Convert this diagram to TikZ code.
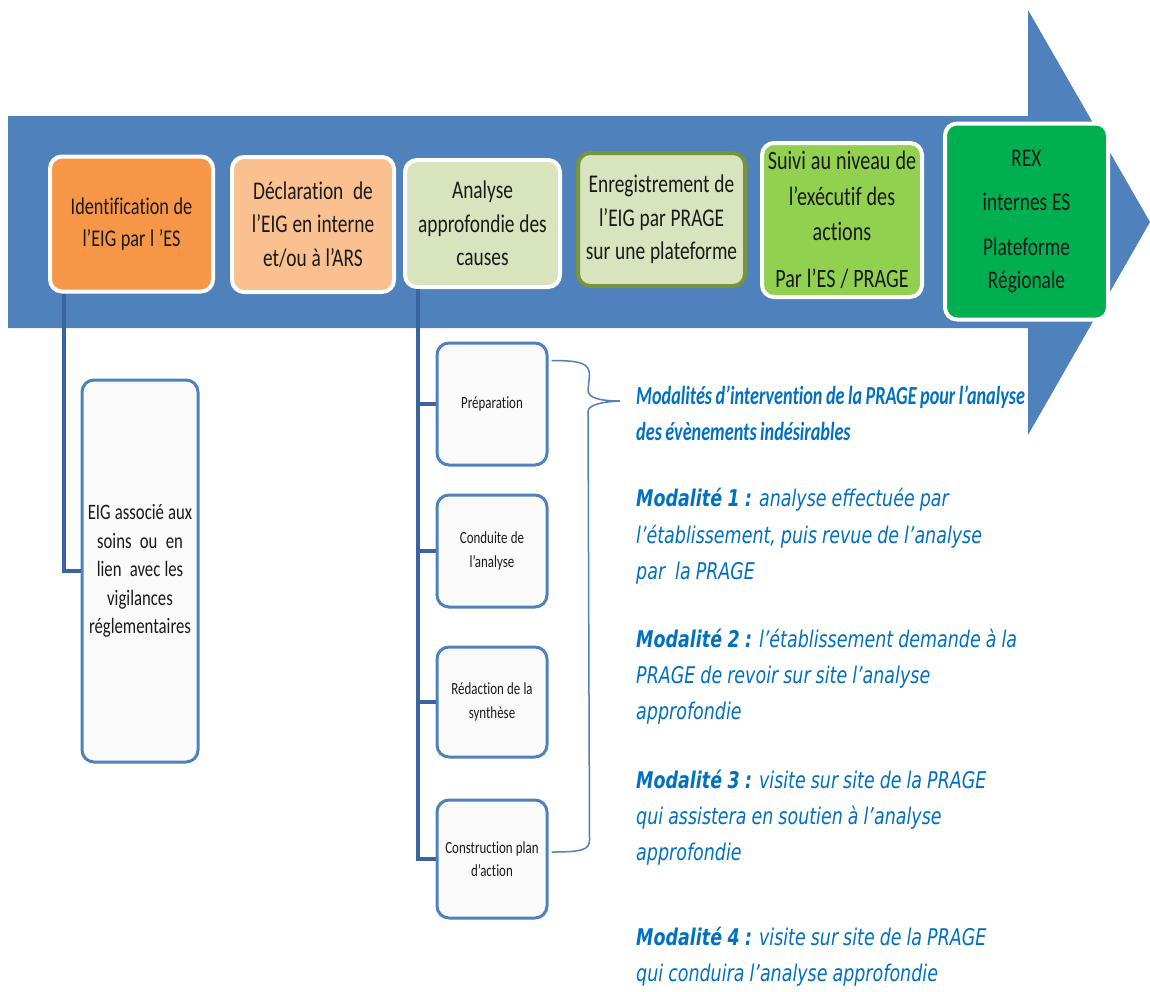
\documentclass[tikz,border=0pt]{standalone}
\usepackage{fontspec}
\setmainfont{Carlito}
\newfontfamily\boxfont[FakeStretch=0.76,WordSpace=1.1,Ligatures=NoCommon]{Carlito}
\newfontfamily\headfont[FakeStretch=0.7,WordSpace=0.85,Ligatures=NoCommon]{Carlito}
\newfontfamily\modfont[FakeStretch=0.76,WordSpace=0.9]{DejaVu Sans}
\usetikzlibrary{calc}
\definecolor{arrowblue}{HTML}{4F81BD}
\definecolor{linkblue}{HTML}{3A64A0}
\definecolor{orangeA}{HTML}{F79646}
\definecolor{orangeB}{HTML}{FAC090}
\definecolor{greenA}{HTML}{D7E4BD}
\definecolor{greenB}{HTML}{92D050}
\definecolor{greenC}{HTML}{00B050}
\definecolor{olive}{HTML}{77933C}
\definecolor{textblue}{HTML}{0070C0}
\definecolor{ink}{HTML}{1A1A1A}
\tikzset{
  mainbox/.style={draw=white, line width=4pt, rounded corners=12pt, align=flush center,
    text=ink, inner sep=2pt, font=\boxfont\fontsize{25.5}{33.5}\selectfont},
  subbox/.style={draw=arrowblue, line width=3pt, fill=white!98!black, rounded corners=12pt,
    align=flush center, text=ink, inner sep=2pt, minimum width=110pt},
  subtext/.style={font=\boxfont\fontsize{17}{23.5}\selectfont},
  link/.style={draw=linkblue, line width=3.5pt},
  bracestyle/.style={draw=arrowblue, line width=1.5pt},
  headtext/.style={anchor=base west, inner sep=0pt, text=textblue,
    font=\headfont\bfseries\itshape\fontsize{26}{36}\selectfont},
  modtext/.style={anchor=base west, inner sep=0pt, text=textblue,
    font=\modfont\itshape\fontsize{23}{36}\selectfont},
}
\begin{document}
\begin{tikzpicture}[x=1pt,y=-1pt]
\useasboundingbox (0,0) rectangle (1150,991);
\fill[white] (0,0) rectangle (1150,991);
% big arrow
\fill[arrowblue] (8,116) -- (1028,116) -- (1028,10) -- (1150,222) -- (1028,435) -- (1028,328) -- (8,328) -- cycle;

% main boxes
\node[mainbox, fill=orangeA, minimum width=163pt, minimum height=135pt, text width=150pt,
  font=\boxfont\fontsize{24}{32.5}\selectfont] (b1) at (131.5,224) {Identification de\\l’EIG par l ’ES};
\node[mainbox, fill=orangeB, minimum width=162pt, minimum height=135pt, text width=150pt] (b2) at (313,224.5) {Déclaration~ de\\l’EIG en interne\\et/ou à l’ARS};
\node[mainbox, fill=greenA, minimum width=155pt, minimum height=127pt, text width=148pt] (b3) at (482.5,223.5) {Analyse\\approfondie des\\causes};
\node[mainbox, draw=olive, fill=greenA, minimum width=167pt, minimum height=133pt, text width=160pt] (b4) at (661.5,219.5) {Enregistrement de\\l’EIG par PRAGE\\sur une plateforme};
\node[mainbox, fill=greenB, minimum width=160pt, minimum height=154pt, text width=154pt,
  font=\boxfont\fontsize{26.5}{35.5}\selectfont] (b5) at (842,220) {Suivi au niveau de\\l’exécutif des\\actions\\[11pt]Par l’ES / PRAGE};
\node[mainbox, fill=greenC, minimum width=163pt, minimum height=196pt, text width=150pt] (b6) at (1026.5,221.5) {REX\\[11pt]internes ES\\[11pt]Plateforme\\Régionale};

% lower left box
\node[subbox, minimum width=116pt, minimum height=382pt, text width=112pt,
  font=\boxfont\fontsize{22}{28.5}\selectfont] (eig) at (140,571) {EIG associé aux\\soins~ ou~ en\\lien~ avec les\\vigilances\\réglementaires};

% sub boxes
\node[subbox, subtext, minimum height=122pt, text width=104pt] (s1) at (492,404) {Préparation};
\node[subbox, subtext, minimum height=112pt, text width=104pt] (s2) at (492,551) {Conduite de\\l’analyse};
\node[subbox, subtext, minimum height=110pt, text width=104pt] (s3) at (492,702) {Rédaction de la\\synthèse};
\node[subbox, subtext, minimum height=118pt, text width=104pt] (s4) at (492,859) {Construction plan\\d’action};

% connectors
\coordinate (c1) at ($(b1.south west)+(16,0)$);
\draw[link] (c1) |- (eig.west);
\coordinate (trunk) at ($(b3.south west)+(15,0)$);
\draw[link] (trunk) |- (s4.west);
\draw[link] (s1.west) -- (s1.west -| trunk);
\draw[link] (s2.west) -- (s2.west -| trunk);
\draw[link] (s3.west) -- (s3.west -| trunk);

% brace
\coordinate (bt) at ($(s1.north east)+(3,19)$);
\coordinate (bb) at ($(s4.east)+(3,-7)$);
\coordinate (tip) at (620,401);
\draw[bracestyle] (bt) .. controls ($(bt)+(30,0)$) and ($(bt)+(38,3)$) .. ($(bt)+(38,15)$)
  -- ($(tip)+(-32,-11)$) .. controls ($(tip)+(-32,-3)$) and ($(tip)+(-20,0)$) .. (tip)
  .. controls ($(tip)+(-20,1)$) and ($(tip)+(-32,4)$) .. ($(tip)+(-32,11)$)
  -- ($(bb)+(38,-12)$) .. controls ($(bb)+(38,-2)$) and ($(bb)+(30,0)$) .. (bb);

% header text
\node[headtext] (h1) at (636,404) {Modalités d’intervention de la PRAGE pour l’analyse};
\node[headtext] (h2) at (636,440) {des évènements indésirables};

% modalities
\node[modtext] (m1a) at (636,506) {\bfseries Modalité 1 :\mdseries{} analyse effectuée par};
\node[modtext] (m1b) at (636,543) {l’établissement, puis revue de l’analyse};
\node[modtext] (m1c) at (636,579) {par~ la PRAGE};

\node[modtext] (m2a) at (636,647) {\bfseries Modalité 2 :\mdseries{} l’établissement demande à la};
\node[modtext] (m2b) at (636,683) {PRAGE de revoir sur site l’analyse};
\node[modtext] (m2c) at (636,719) {approfondie};

\node[modtext] (m3a) at (636,788) {\bfseries Modalité 3 :\mdseries{} visite sur site de la PRAGE};
\node[modtext] (m3b) at (636,824) {qui assistera en soutien à l’analyse};
\node[modtext] (m3c) at (636,860) {approfondie};

\node[modtext] (m4a) at (636,945) {\bfseries Modalité 4 :\mdseries{} visite sur site de la PRAGE};
\node[modtext] (m4b) at (636,981) {qui conduira l’analyse approfondie};
\end{tikzpicture}
\end{document}
